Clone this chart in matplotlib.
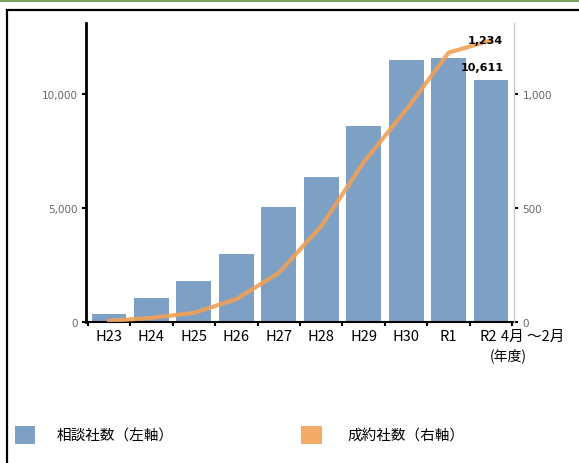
import matplotlib.pyplot as plt
import matplotlib.transforms as mtransforms
from matplotlib.patches import Rectangle

plt.rcParams['font.family'] = ['Noto Sans CJK JP', 'DejaVu Sans']

# data
years = ['H23', 'H24', 'H25', 'H26', 'H27', 'H28', 'H29', 'H30', 'R1', 'R2']
consult = [330, 1050, 1800, 2980, 5040, 6350, 8600, 11480, 11580, 10611]
contracts = [5, 18, 40, 100, 215, 420, 700, 930, 1180, 1234]

bar_color = '#7FA0C5'
line_color = '#F0A055'

fig = plt.figure(figsize=(5.79, 4.64), dpi=100)
W, H = 579, 464

# outer frame + green strip at the top
fig.add_artist(Rectangle((0, 1 - 3 / H), 1, 3 / H, transform=fig.transFigure,
                         color='#7EA35E', lw=0))
fig.add_artist(Rectangle((7.5 / W, -0.05), 1.2, 1 - 10.5 / H + 0.05,
                         transform=fig.transFigure, fill=False,
                         edgecolor='black', lw=1.6))

ax = fig.add_axes([86 / W, 141 / H, (514 - 86) / W, (323 - 24) / H])
x = list(range(len(years)))
ax.bar(x, consult, width=0.82, color=bar_color, zorder=2)
ax.set_xlim(-0.54, 9.54)
ax.set_ylim(0, 13100)
ax.set_yticks([0, 5000, 10000])
ax.set_yticklabels(['0', '5,000', '10,000'], family='DejaVu Sans',
                   fontsize=7.5, color='#666666')
ax.set_xticks(x)
ax.set_xticklabels(years, fontsize=10.5)
ax.set_xticks([i - 0.5 for i in range(len(years) + 1)], minor=True)
ax.tick_params(axis='x', which='major', length=0, pad=5)
ax.tick_params(axis='x', which='minor', length=3, width=1.5, direction='out')
ax.tick_params(axis='y', length=3, width=1.5, pad=3)
ax.spines['top'].set_visible(False)
ax.spines['right'].set_visible(False)
ax.spines['left'].set_linewidth(2)
ax.spines['bottom'].set_linewidth(1.5)

# nudge the last label left so it clears the "4月～2月" note
last = ax.get_xticklabels()[-1]
last.set_transform(last.get_transform() +
                   mtransforms.ScaledTranslation(-3 / 100, 0, fig.dpi_scale_trans))

ax2 = ax.twinx()
ax2.plot(x, contracts, color=line_color, lw=3, alpha=0.9, zorder=3)
ax2.set_ylim(0, 1310)
ax2.set_yticks([0, 500, 1000])
ax2.set_yticklabels(['0', '500', '1,000'], family='DejaVu Sans',
                    fontsize=7.5, color='#666666')
ax2.tick_params(axis='y', length=3, width=1.5, pad=3)
ax2.spines['top'].set_visible(False)
ax2.spines['left'].set_visible(False)
ax2.spines['bottom'].set_visible(False)
ax2.spines['right'].set_color('#C8C8C8')
ax2.spines['right'].set_linewidth(1)

# data labels for the last year
ax2.annotate(f'{contracts[-1]:,}', (x[-1], contracts[-1]), xytext=(-6, 0),
             textcoords='offset pixels', ha='center', va='center',
             family='DejaVu Sans', fontsize=8, fontweight='bold')
ax.annotate(f'{consult[-1]:,}', (x[-1], consult[-1]), xytext=(-9, 13),
            textcoords='offset pixels', ha='center', va='center',
            family='DejaVu Sans', fontsize=8, fontweight='bold')

fig.text(501 / W, 1 - 337 / H, '4月 ～2月', fontsize=10.5, va='center')
fig.text(508 / W, 1 - 356 / H, '(年度)', fontsize=10, va='center', ha='center')

# legend
fig.add_artist(Rectangle((15 / W, 1 - 445 / H), 20 / W, 18 / H,
                         transform=fig.transFigure, color=bar_color, lw=0))
fig.text(57 / W, 1 - 437 / H, '相談社数（左軸）', fontsize=10.5, va='center')
fig.add_artist(Rectangle((301 / W, 1 - 445 / H), 21 / W, 18 / H,
                         transform=fig.transFigure, color='#F4AB68', lw=0))
fig.text(347 / W, 1 - 437 / H, '成約社数（右軸）', fontsize=10.5, va='center')

fig.savefig('out.png', dpi=100)
